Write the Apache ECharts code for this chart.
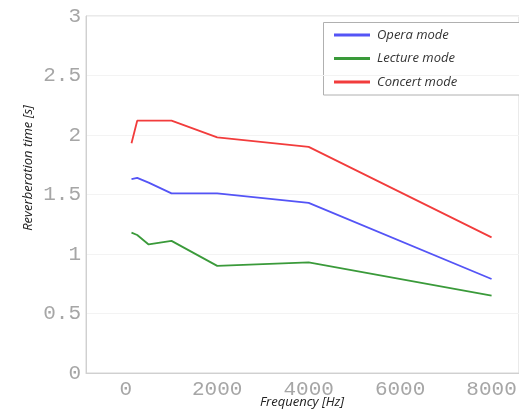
<!DOCTYPE html>
<html>
<head>
<meta charset="utf-8">
<script src="https://cdn.jsdelivr.net/npm/echarts@6/dist/echarts.min.js"></script>
<style>html,body{margin:0;padding:0;background:#fff}#c{width:519px;height:409px}</style>
</head>
<body>
<div id="c"></div>
<script>
var freqs = [125, 250, 500, 1000, 2000, 4000, 8000];
var opera = [1.63, 1.64, 1.60, 1.51, 1.51, 1.43, 0.79];
var lecture = [1.18, 1.16, 1.08, 1.11, 0.90, 0.93, 0.65];
var concert = [1.93, 2.12, 2.12, 2.12, 1.98, 1.90, 1.14];
var xTicks = [0, 2000, 4000, 6000, 8000];
var seriesNames = ['Opera mode', 'Lecture mode', 'Concert mode'];
var colors = ['#5454f6', '#3a9a3a', '#f23c3c'];

function pairs(vals) { return freqs.map(function (f, i) { return [f, vals[i]]; }); }

var chart = echarts.init(document.getElementById('c'), null, {renderer: 'canvas'});
var axisFont = {fontFamily: 'Liberation Mono', fontSize: 21, color: '#a6a6a6'};
chart.setOption({
  animation: false,
  grid: {left: 86, top: 16, right: 0, bottom: 36, show: true, borderColor: '#d4d4d4', borderWidth: 1, containLabel: false, outerBoundsMode: 'none'},
  xAxis: {
    type: 'value', min: -870, max: 8600,
    axisLine: {show: true, onZero: false, lineStyle: {color: '#d0d0d0'}},
    axisTick: {show: false, customValues: xTicks},
    axisLabel: Object.assign({customValues: xTicks, margin: 6, formatter: function (v) { return String(v); }}, axisFont),
    splitLine: {show: false}
  },
  yAxis: {
    type: 'value', min: 0, max: 3, interval: 0.5,
    axisLine: {show: true, onZero: false, lineStyle: {color: '#d0d0d0'}},
    axisTick: {show: false},
    axisLabel: Object.assign({margin: 5}, axisFont),
    splitLine: {show: true, lineStyle: {color: '#f3f3f3'}}
  },
  legend: {
    orient: 'vertical', left: 329, top: 22, itemWidth: 36, itemHeight: 3, itemGap: 7.5,
    icon: 'rect',
    textStyle: {fontFamily: 'Open Sans', fontStyle: 'italic', fontSize: 13, color: '#333', lineHeight: 16, padding: [0, 0, 0, 2]},
    data: seriesNames
  },
  graphic: [
    {type: 'rect', shape: {x: 323.5, y: 22.5, width: 200, height: 72.5}, style: {fill: '#fff', stroke: '#b0b0b0', lineWidth: 1}, z: 0, zlevel: 0},
    {type: 'text', x: 302, y: 402, style: {text: 'Frequency [Hz]', font: 'italic 13px "Open Sans"', fill: '#222', textAlign: 'center', textVerticalAlign: 'middle'}},
    {type: 'text', x: 28, y: 168, rotation: Math.PI / 2, style: {text: 'Reverberation time [s]', font: 'italic 13px "Open Sans"', fill: '#222', textAlign: 'center', textVerticalAlign: 'middle'}}
  ],
  series: [opera, lecture, concert].map(function (vals, i) {
    return {
      name: seriesNames[i], type: 'line', data: pairs(vals), showSymbol: false, symbol: 'none',
      color: colors[i], lineStyle: {width: 1.8, color: colors[i]}
    };
  })
});
</script>
</body>
</html>
